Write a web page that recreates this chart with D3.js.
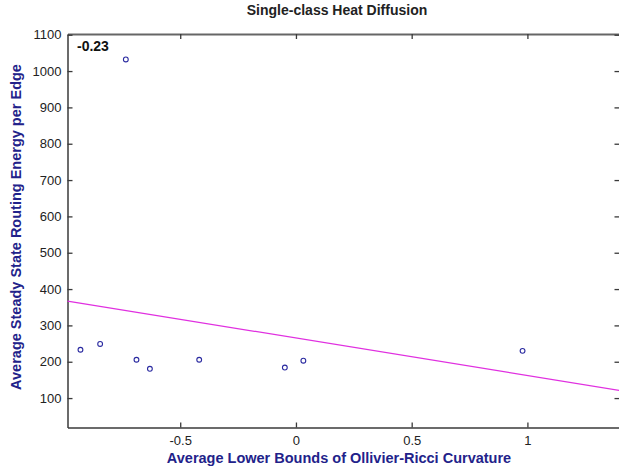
<!DOCTYPE html>
<html><head><meta charset="utf-8">
<script src="https://d3js.org/d3.v7.min.js"></script>
<style>
html,body{margin:0;padding:0;background:#fff;}
svg{display:block;}
</style></head>
<body>
<script>
// Data
const curvature = [-0.931, -0.846, -0.689, -0.631, -0.418, -0.048, 0.032, 0.979, -0.735];
const energy    = [233, 249, 205.5, 180.6, 205.5, 184, 202.8, 230, 1032];
const fitX = [-0.987, 1.40];
const fitY = [367, 121];
const xTicks = [-0.5, 0, 0.5, 1];
const yTicks = [100, 200, 300, 400, 500, 600, 700, 800, 900, 1000, 1100];
const xDomain = [-0.987, 1.40];
const yDomain = [19, 1102];
const titleText = "Single-class Heat Diffusion";
const xLabel = "Average Lower Bounds of Ollivier-Ricci Curvature";
const yLabel = "Average Steady State Routing Energy per Edge";
const corrText = "-0.23";

const W = 619, H = 474;
const L = 67.5, R = 620, T = 34, B = 427.5;
const svg = d3.select("body").append("svg").attr("width", W).attr("height", H);

const x = d3.scaleLinear().domain(xDomain).range([L, R]);
const y = d3.scaleLinear().domain(yDomain).range([B, T]);

const font = "'Liberation Sans', Arial, sans-serif";
const axisCol = "#3a3a3a";
const labelCol = "#22228a";

// axes
const tl = 5;
const gB = svg.append("g").attr("transform", `translate(0,${B})`)
  .call(d3.axisBottom(x).tickValues(xTicks).tickSizeInner(-tl).tickSizeOuter(0).tickPadding(8)
  .tickFormat(d => String(d)));
const gT = svg.append("g").attr("transform", `translate(0,${T})`)
  .call(d3.axisTop(x).tickValues(xTicks).tickSizeInner(-tl).tickSizeOuter(0).tickFormat(""));
const gL = svg.append("g").attr("transform", `translate(${L},0)`)
  .call(d3.axisLeft(y).tickValues(yTicks).tickSizeInner(-tl).tickSizeOuter(0).tickPadding(6)
  .tickFormat(d => String(d)));
const gR = svg.append("g").attr("transform", `translate(${R - 0.5},0)`)
  .call(d3.axisRight(y).tickValues(yTicks).tickSizeInner(-tl).tickSizeOuter(0).tickFormat(""));

[gB, gT, gL, gR].forEach(g => {
  g.select(".domain").attr("stroke", axisCol).attr("stroke-width", 1.5);
  g.selectAll(".tick line").attr("stroke", axisCol).attr("stroke-width", 1.3);
  g.selectAll(".tick text").attr("fill", "#222").style("font-family", font).style("font-size", "13px");
});
gT.select(".domain").attr("stroke", "#666").attr("stroke-width", 2);

// regression line
svg.append("line")
  .attr("x1", x(fitX[0])).attr("y1", y(fitY[0]))
  .attr("x2", x(fitX[1])).attr("y2", y(fitY[1]))
  .attr("stroke", "#e030e0").attr("stroke-width", 1.2);

// points
svg.append("g").selectAll("circle").data(curvature.map((c, i) => [c, energy[i]]))
  .join("circle")
  .attr("cx", d => x(d[0])).attr("cy", d => y(d[1])).attr("r", 2.4)
  .attr("fill", "none").attr("stroke", "#2a2aa0").attr("stroke-width", 1.1);

// texts
svg.append("text").attr("x", 337).attr("y", 15).attr("text-anchor", "middle")
  .style("font-family", font).style("font-weight", "bold").style("font-size", "14px")
  .attr("fill", "#222").text(titleText);

svg.append("text").attr("x", 339).attr("y", 463).attr("text-anchor", "middle")
  .style("font-family", font).style("font-weight", "bold").style("font-size", "14.5px")
  .attr("fill", labelCol).text(xLabel);

svg.append("text").attr("transform", "translate(21,227) rotate(-90)").attr("text-anchor", "middle")
  .style("font-family", font).style("font-weight", "bold").style("font-size", "14.5px")
  .attr("fill", labelCol).text(yLabel);

svg.append("text").attr("x", 77).attr("y", 51)
  .style("font-family", font).style("font-weight", "bold").style("font-size", "14px")
  .attr("fill", "#111").text(corrText);
</script>
</body></html>
